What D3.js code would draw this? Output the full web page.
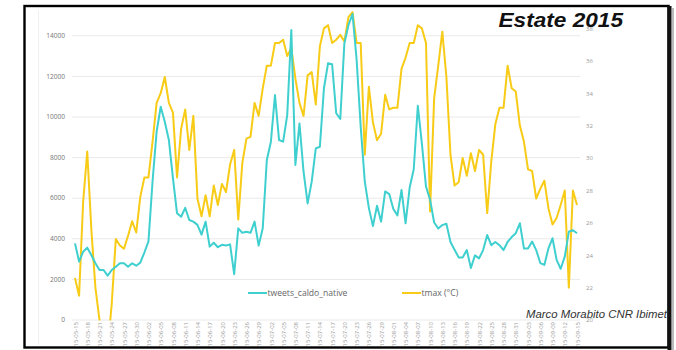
<!DOCTYPE html>
<html><head><meta charset="utf-8">
<script src="https://cdn.jsdelivr.net/npm/d3@7"></script>
<style>body{margin:0;background:#fff}svg{display:block}</style>
</head><body><svg id="c" width="676" height="350"></svg>
<script>
const tickLabels = ["2015-05-15","2015-05-18","2015-05-21","2015-05-24","2015-05-27","2015-05-30",
"2015-06-02","2015-06-05","2015-06-08","2015-06-11","2015-06-14","2015-06-17","2015-06-20","2015-06-23","2015-06-26","2015-06-29",
"2015-07-02","2015-07-05","2015-07-08","2015-07-11","2015-07-14","2015-07-17","2015-07-20","2015-07-23","2015-07-26","2015-07-29",
"2015-08-01","2015-08-04","2015-08-07","2015-08-10","2015-08-13","2015-08-16","2015-08-19","2015-08-22","2015-08-25","2015-08-28","2015-08-31",
"2015-09-03","2015-09-06","2015-09-09","2015-09-12","2015-09-15"];
const tweets = [
3750,2850,3340,3540,3180,2770,2440,2440,2160,2440,
2600,2770,2770,2600,2770,2650,2800,3300,3850,6800,
9250,10480,9740,8840,6960,5230,5060,5500,4900,4820,
4660,4180,4820,3590,3780,3560,3680,3650,3700,2230,
4490,4270,4320,4270,4820,3640,4490,7860,8760,11060,
8840,8760,10070,14260,7610,9660,7280,5720,6790,8430,
8510,11390,12620,12570,10160,9880,13600,14500,15050,12800,
9500,6800,5500,4600,5600,4820,6310,6180,5440,5130,
6380,4740,6500,7400,10530,8650,6550,5900,4780,4480,
4650,4720,3820,3440,3060,3060,3420,2540,3160,3010,
3420,4160,3660,3820,3660,3420,3820,4060,4250,4740,
3500,3500,3840,3420,2780,2690,3500,4000,2940,2500,
3100,4320,4400,4250];
const tmax = [
22.6,21.5,27.3,30.4,25.6,22.0,20.0,18.5,18.2,21.0,
25.0,24.6,24.4,25.2,26.1,25.4,27.6,28.8,28.8,31.0,
33.4,34.0,35.0,33.4,32.8,28.8,31.8,33.0,30.5,32.6,
27.5,26.4,27.7,26.4,28.3,27.1,28.4,27.9,29.6,30.5,
26.2,29.7,31.2,31.3,33.4,32.6,34.3,35.7,35.7,37.1,
37.1,37.3,36.3,36.8,34.9,33.4,32.6,35.1,35.3,33.3,
36.9,38.0,38.2,37.1,37.3,37.6,37.2,38.7,39.0,37.1,
37.1,30.2,34.4,32.2,31.1,31.5,33.9,33.0,33.1,33.1,
35.5,36.2,37.1,37.1,38.2,38.0,37.1,26.7,33.7,35.7,
37.8,35.0,30.2,28.3,28.5,30.0,28.9,30.3,29.2,30.5,
30.2,26.6,29.8,32.1,33.1,33.1,35.7,34.3,34.1,32.0,
31.0,29.3,29.2,27.5,28.1,28.6,26.9,25.9,26.3,27.1,
28.0,22.0,28.0,27.1];
const leftTicks = [0,2000,4000,6000,8000,10000,12000,14000];
const rightTicks = [20,22,24,26,28,30,32,34,36,38];
const seriesNames = ["tweets_caldo_native","tmax (°C)"];
const colors = ["#3fcfcf","#f7cb16"];
const title = "Estate 2015";
const credit = "Marco Morabito CNR Ibimet";

const parse = d3.timeParse("%Y-%m-%d"), fmt = d3.timeFormat("%Y-%m-%d");
const days = d3.timeDay.range(parse("2015-05-15"), d3.timeDay.offset(parse("2015-09-15"),1)).map(fmt);

const svg = d3.select("#c");
const defs = svg.append("defs");
defs.append("clipPath").attr("id","frame").append("rect").attr("x",25).attr("y",7).attr("width",642).attr("height",340);
defs.append("clipPath").attr("id","plot").append("rect").attr("x",60).attr("y",4).attr("width",530).attr("height",316.5);

const x = d3.scalePoint().domain(days).range([75,577]);
const yL = d3.scaleLinear().domain([0,14000]).range([319.5,35.3]);
const yR = d3.scaleLinear().domain([20,38]).range([320,28.4]);

const g = svg.append("g").attr("clip-path","url(#frame)");

// faint left guide line
g.append("line").attr("x1",38.5).attr("x2",38.5).attr("y1",10).attr("y2",345).attr("stroke","#f0f0f0");

// gridlines + left axis
const ax = g.append("g").attr("transform","translate(72,0)")
  .call(d3.axisLeft(yL).tickValues(leftTicks).tickSize(-508).tickPadding(7).tickFormat(d3.format("d")));
ax.select(".domain").remove();
ax.selectAll(".tick line").attr("stroke","#e9e9e9");
ax.selectAll(".tick text").attr("fill","#777").style("font-family","'Open Sans',sans-serif").style("font-size","6.6px");

// right axis
const ar = g.append("g").attr("transform","translate(583,0)")
  .call(d3.axisRight(yR).tickValues(rightTicks).tickSize(0).tickPadding(3));
ar.select(".domain").remove();
ar.selectAll(".tick text").attr("fill","#999").style("font-family","'Open Sans',sans-serif").style("font-size","6px");

// x axis
const axb = g.append("g").attr("transform","translate(0,320)")
  .call(d3.axisBottom(x).tickValues(tickLabels).tickSize(0));
axb.select(".domain").remove();
axb.selectAll(".tick text").attr("transform","rotate(-90)").attr("x",-2).attr("y",0).attr("dy","0.35em")
  .attr("text-anchor","end").attr("fill","#999").style("font-family","'Open Sans',sans-serif").style("font-size","6px");

// lines
const pg = g.append("g").attr("clip-path","url(#plot)");
pg.append("path").datum(tmax).attr("fill","none").attr("stroke",colors[1]).attr("stroke-width",2)
  .attr("stroke-linejoin","round")
  .attr("d", d3.line().x((d,i)=>x(days[i])).y(d=>yR(d)));
pg.append("path").datum(tweets).attr("fill","none").attr("stroke",colors[0]).attr("stroke-width",2)
  .attr("stroke-linejoin","round")
  .attr("d", d3.line().x((d,i)=>x(days[i])).y(d=>yL(d)));

// legend
const leg = [{x:248,name:seriesNames[0],c:colors[0]},{x:402,name:seriesNames[1],c:colors[1]}];
leg.forEach(l=>{
  g.append("line").attr("x1",l.x).attr("x2",l.x+19).attr("y1",293).attr("y2",293).attr("stroke",l.c).attr("stroke-width",2);
  g.append("text").attr("x",l.x+19.5).attr("y",293).attr("dy","0.35em").text(l.name)
   .attr("fill","#666").style("font-family","'Open Sans',sans-serif").style("font-size","8.6px");
});

// title & credit
g.append("text").attr("x",498.5).attr("y",26.7).text(title).attr("fill","#111")
  .attr("textLength",124.5).attr("lengthAdjust","spacingAndGlyphs")
  .style("font-family","'Liberation Sans',Arial,sans-serif").style("font-size","20px").style("font-weight","bold").style("font-style","italic");
g.append("text").attr("x",526).attr("y",317.5).text(credit).attr("fill","#333")
  .attr("textLength",141).attr("lengthAdjust","spacingAndGlyphs")
  .style("font-family","'Liberation Sans',Arial,sans-serif").style("font-size","11px").style("font-style","italic");

// frame
svg.append("rect").attr("x",24.5).attr("y",6).attr("width",644).attr("height",341.5)
  .attr("fill","none").attr("stroke","#000").attr("stroke-width",2.4);
svg.append("line").attr("x1",669.5).attr("x2",669.5).attr("y1",6).attr("y2",350)
  .attr("stroke","#111").attr("stroke-width",4);
svg.append("line").attr("x1",673).attr("x2",673).attr("y1",8).attr("y2",350)
  .attr("stroke","#bbb").attr("stroke-width",2);
</script></body></html>
